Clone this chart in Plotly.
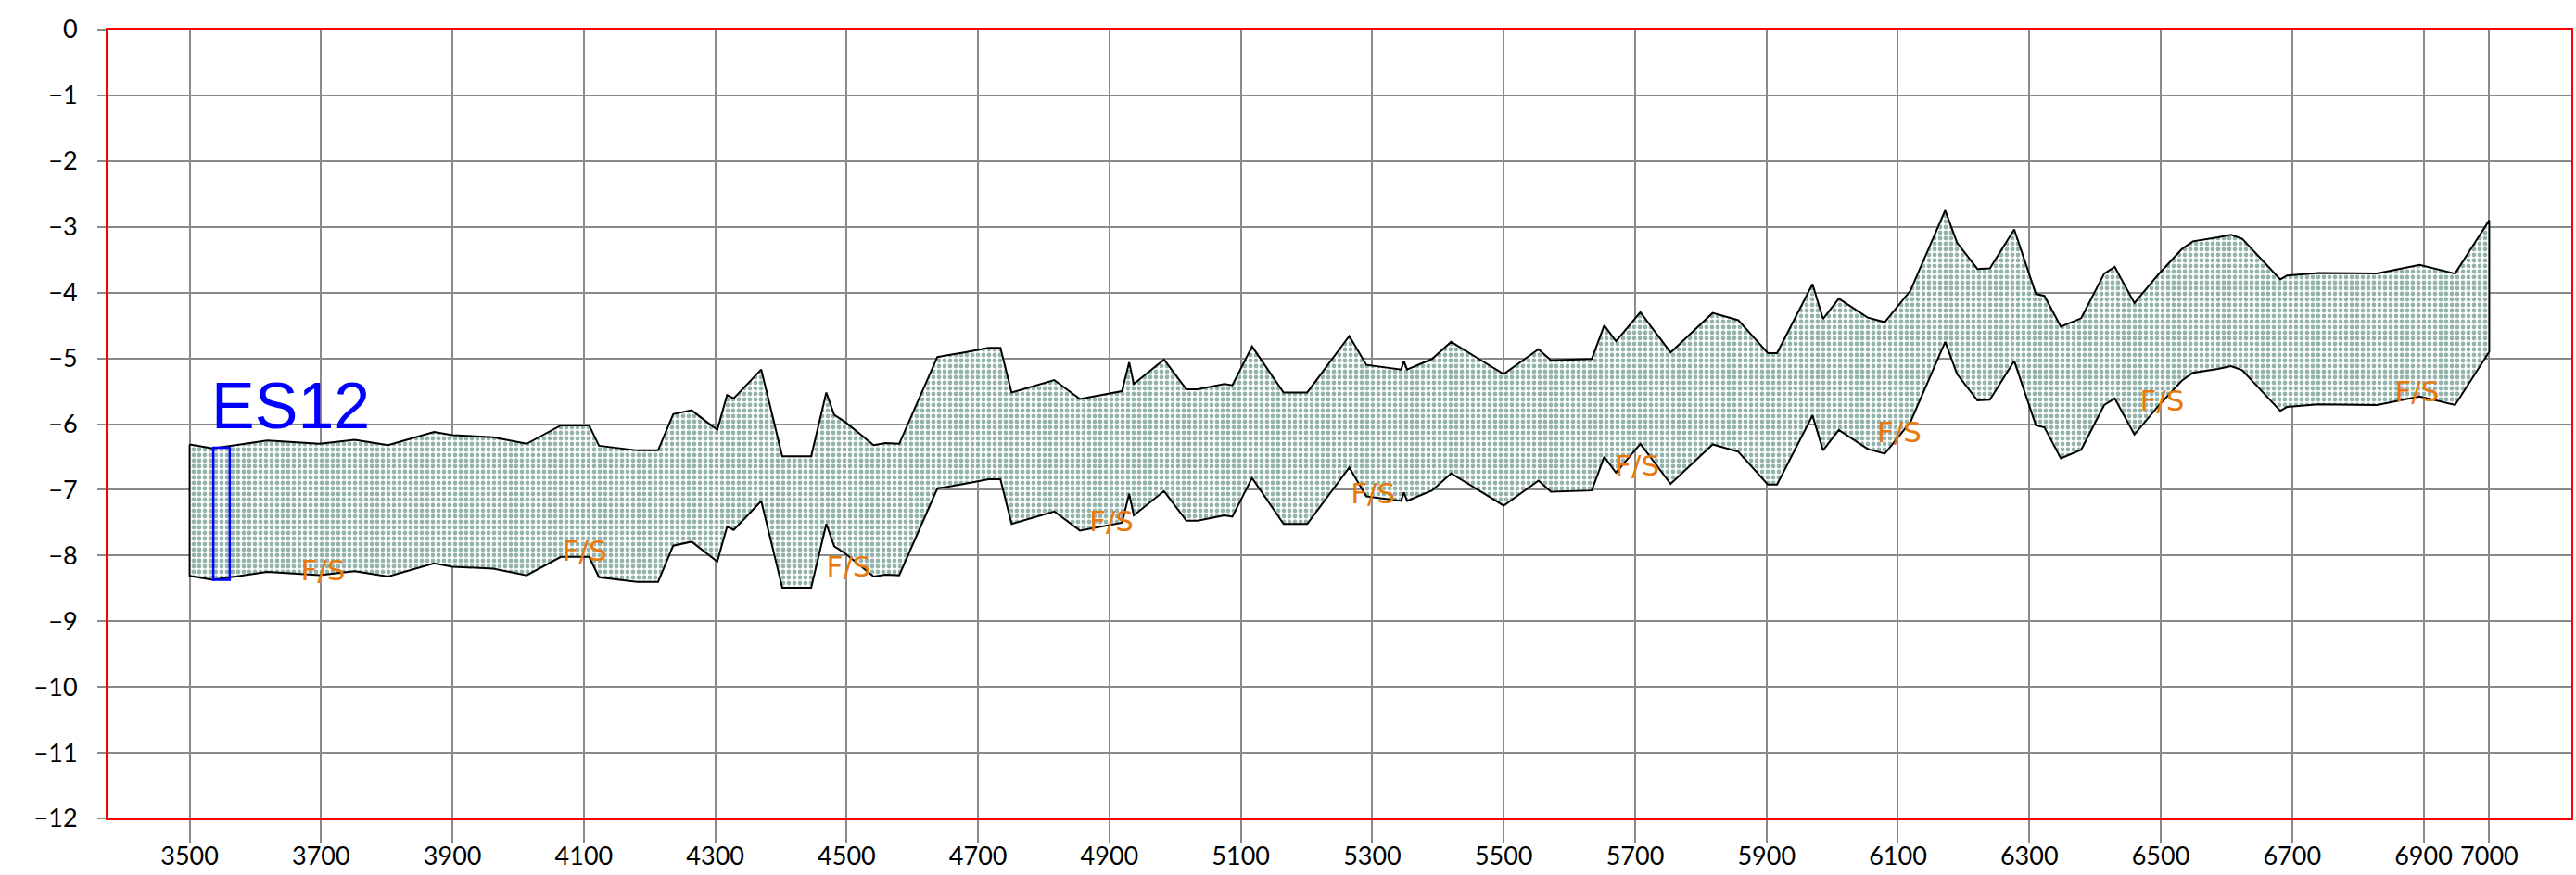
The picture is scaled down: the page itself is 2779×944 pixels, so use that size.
import plotly.graph_objects as go

# ---- data ----
chainage = [3500, 3535, 3618, 3698, 3751, 3802, 3872, 3900, 3962, 4013, 4065, 4108, 4123, 4181, 4213,
            4236, 4264, 4303, 4318, 4328, 4370, 4402, 4446, 4469, 4481, 4498, 4541, 4559, 4580, 4638,
            4679, 4716, 4734, 4751, 4816, 4855, 4919, 4930, 4937, 4983, 5017, 5034, 5075, 5087, 5117,
            5165, 5201, 5265, 5291, 5344, 5348, 5353, 5391, 5420, 5464, 5500, 5553, 5572, 5634, 5653,
            5671, 5708, 5754, 5818, 5857, 5902, 5916, 5970, 5986, 6010, 6054, 6080, 6119, 6172, 6190,
            6221, 6240, 6277, 6310, 6323, 6348, 6379, 6414, 6430, 6460, 6495, 6532, 6549, 6587, 6607,
            6624, 6682, 6692, 6740, 6829, 6894, 6948, 7000]

layer_top = [-6.31, -6.37, -6.25, -6.30, -6.24, -6.32, -6.12, -6.17, -6.20, -6.30, -6.02, -6.02, -6.33, -6.40, -6.40,
             -5.85, -5.79, -6.09, -5.56, -5.61, -5.17, -6.49, -6.49, -5.52, -5.86, -5.97, -6.32, -6.29, -6.30, -4.98,
             -4.91, -4.84, -4.84, -5.52, -5.33, -5.62, -5.50, -5.06, -5.39, -5.02, -5.47, -5.47, -5.39, -5.41, -4.82,
             -5.52, -5.52, -4.66, -5.10, -5.17, -5.04, -5.17, -5.01, -4.75, -5.02, -5.24, -4.86, -5.03, -5.01, -4.50,
             -4.74, -4.30, -4.91, -4.31, -4.42, -4.92, -4.92, -3.87, -4.40, -4.09, -4.38, -4.45, -3.97, -2.75, -3.24,
             -3.64, -3.63, -3.04, -4.02, -4.05, -4.52, -4.39, -3.71, -3.61, -4.16, -3.74, -3.34, -3.22, -3.16, -3.12,
             -3.18, -3.80, -3.74, -3.70, -3.71, -3.58, -3.71, -2.90]

layer_bottom = [-8.31, -8.37, -8.25, -8.30, -8.24, -8.32, -8.12, -8.17, -8.20, -8.30, -8.02, -8.02, -8.33, -8.40, -8.40,
                -7.85, -7.79, -8.09, -7.56, -7.61, -7.17, -8.49, -8.49, -7.52, -7.86, -7.97, -8.32, -8.29, -8.30, -6.98,
                -6.91, -6.84, -6.84, -7.52, -7.33, -7.62, -7.50, -7.06, -7.39, -7.02, -7.47, -7.47, -7.39, -7.41, -6.82,
                -7.52, -7.52, -6.66, -7.10, -7.17, -7.04, -7.17, -7.01, -6.75, -7.02, -7.24, -6.86, -7.03, -7.01, -6.50,
                -6.74, -6.30, -6.91, -6.31, -6.42, -6.92, -6.92, -5.87, -6.40, -6.09, -6.38, -6.45, -5.97, -4.75, -5.24,
                -5.64, -5.63, -5.04, -6.02, -6.05, -6.52, -6.39, -5.71, -5.61, -6.16, -5.74, -5.34, -5.22, -5.16, -5.12,
                -5.18, -5.80, -5.74, -5.70, -5.71, -5.58, -5.71, -4.90]

label_x = [3703, 4101, 4503, 4903, 5301, 5703, 6102, 6502, 6890]
label_y = [-8.27, -7.97, -8.21, -7.52, -7.10, -6.68, -6.17, -5.68, -5.55]
label_text = "F/S"

borehole_name = "ES12"
borehole_x = [3536, 3561]
borehole_y = [-8.37, -6.36]

x_ticks = [3500, 3700, 3900, 4100, 4300, 4500, 4700, 4900, 5100, 5300, 5500, 5700, 5900, 6100, 6300,
           6500, 6700, 6900, 7000]
y_ticks = [0, -1, -2, -3, -4, -5, -6, -7, -8, -9, -10, -11, -12]

assert len(chainage) == len(layer_top) == len(layer_bottom)

# ---- figure ----
poly_x = chainage + chainage[::-1] + [chainage[0]]
poly_y = layer_top + layer_bottom[::-1] + [layer_top[0]]

fig = go.Figure()
fig.add_trace(go.Scatter(
    x=poly_x, y=poly_y, mode="lines", fill="toself",
    fillcolor="white",
    fillpattern=dict(shape=".", fgcolor="#276757", bgcolor="white", size=6, solidity=0.5),
    line=dict(color="black", width=2),
    hoverinfo="skip", showlegend=False,
))

fig.add_trace(go.Scatter(
    x=label_x, y=label_y, mode="text", text=[label_text] * len(label_x),
    textposition="middle center",
    textfont=dict(family="DejaVu Sans", size=31, color="#e8790c"),
    showlegend=False, hoverinfo="skip",
))

fig.add_shape(type="rect", x0=borehole_x[0], x1=borehole_x[1], y0=borehole_y[0], y1=borehole_y[1],
              line=dict(color="blue", width=2.5), fillcolor="rgba(0,0,0,0)")
fig.add_annotation(x=borehole_x[0], y=borehole_y[1], text=borehole_name, showarrow=False,
                   xanchor="left", yanchor="bottom", xshift=-4, yshift=4,
                   font=dict(family="Liberation Sans", size=70, color="blue"))

grid_col = "#8a8a8a"
fig.update_xaxes(range=[3375, 7125], tickvals=x_ticks, showgrid=True, gridcolor=grid_col, gridwidth=2,
                 showline=True, linecolor="red", linewidth=2, mirror=True, zeroline=False,
                 ticks="outside", ticklen=25, tickwidth=2, tickcolor=grid_col, automargin=False,
                 ticklabelstandoff=-9,
                 tickfont=dict(family="Lato", size=27, color="black"))
fig.update_yaxes(range=[-12, 0], tickvals=y_ticks, showgrid=True, gridcolor=grid_col, gridwidth=2,
                 showline=True, linecolor="red", linewidth=2, mirror=True, zeroline=False,
                 ticks="outside", ticklen=9, tickwidth=2, tickcolor=grid_col, ticklabelstandoff=16,
                 automargin=False,
                 tickfont=dict(family="Lato", size=27, color="black"))

fig.update_layout(width=2779, height=944, margin=dict(l=116, r=5, t=32, b=61, autoexpand=False),
                  plot_bgcolor="white", paper_bgcolor="white", showlegend=False)

fig.write_html("out.html", config={"displayModeBar": False},
               post_script="document.body.style.margin='0';document.body.style.overflow='hidden';")
